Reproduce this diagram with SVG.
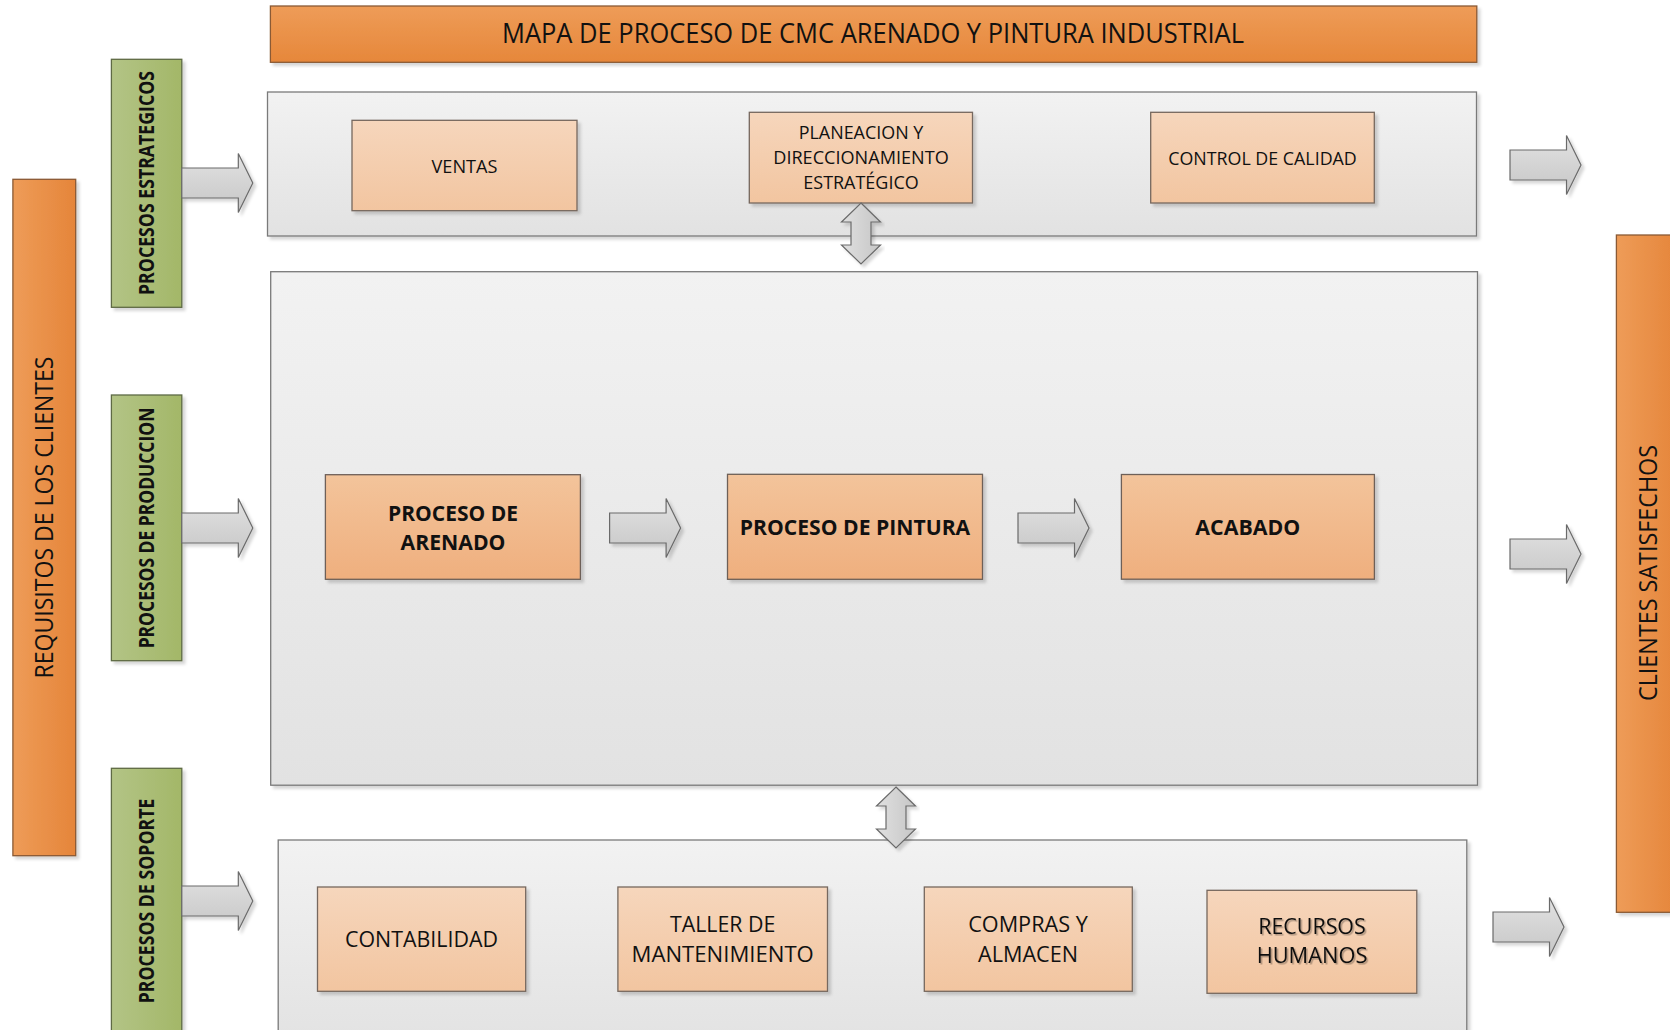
<svg xmlns="http://www.w3.org/2000/svg" xmlns:xlink="http://www.w3.org/1999/xlink" width="1670" height="1030" viewBox="0 0 1670 1030">
  <defs>
    <linearGradient id="gOrangeV" x1="0" y1="0" x2="0" y2="1">
      <stop offset="0" stop-color="#EE9C58"/>
      <stop offset="1" stop-color="#E6873A"/>
    </linearGradient>
    <linearGradient id="gOrangeH" x1="0" y1="0" x2="1" y2="0">
      <stop offset="0" stop-color="#EE9C58"/>
      <stop offset="1" stop-color="#E5853A"/>
    </linearGradient>
    <linearGradient id="gGreen" x1="0" y1="0" x2="1" y2="0">
      <stop offset="0" stop-color="#B3C486"/>
      <stop offset="1" stop-color="#A3B768"/>
    </linearGradient>
    <linearGradient id="gPanel" x1="0" y1="0" x2="0" y2="1">
      <stop offset="0" stop-color="#F2F2F2"/>
      <stop offset="1" stop-color="#E2E2E2"/>
    </linearGradient>
    <linearGradient id="gPeach" x1="0" y1="0" x2="0" y2="1">
      <stop offset="0" stop-color="#F6D6BC"/>
      <stop offset="1" stop-color="#F2C5A0"/>
    </linearGradient>
    <linearGradient id="gPeachDark" x1="0" y1="0" x2="0" y2="1">
      <stop offset="0" stop-color="#F3C49B"/>
      <stop offset="1" stop-color="#EFAF7E"/>
    </linearGradient>
    <linearGradient id="gArrow" x1="0" y1="0" x2="0" y2="1">
      <stop offset="0" stop-color="#E2E2E2"/>
      <stop offset="1" stop-color="#C6C6C6"/>
    </linearGradient>
    <linearGradient id="gArrowV" x1="0" y1="0" x2="1" y2="0">
      <stop offset="0" stop-color="#E0E0E0"/>
      <stop offset="1" stop-color="#C6C6C6"/>
    </linearGradient>
    <filter id="shadow" x="-5%" y="-5%" width="115%" height="115%">
      <feDropShadow dx="3" dy="3" stdDeviation="1.5" flood-color="#000" flood-opacity="0.16"/>
    </filter>
    <filter id="txtShadow" x="-5%" y="-20%" width="115%" height="150%">
      <feDropShadow dx="1.5" dy="1.5" stdDeviation="0.6" flood-color="#000" flood-opacity="0.3"/>
    </filter>
    <!-- horizontal block arrow, origin at tail centre -->
    <path id="blockArrow" d="M0,-15 H56.5 V-29.5 L71,0 L56.5,29.5 V15 H0 Z"/>
    <!-- vertical two-headed arrow, origin at top tip -->
    <path id="dblArrow" d="M0,0 L19.5,19 H10 V42 H19.5 L0,61 L-19.5,42 H-10 V19 H-19.5 Z"/>
    <style>
      .panel { fill: url(#gPanel); stroke: #7A7A7A; stroke-width: 1.3; filter: url(#shadow); }
      .box { fill: url(#gPeach); stroke: #76685E; stroke-width: 1.3; filter: url(#shadow); }
      .boxDark { fill: url(#gPeachDark); stroke: #6E6058; stroke-width: 1.3; filter: url(#shadow); }
      .green { fill: url(#gGreen); stroke: #5E6B45; stroke-width: 1.3; filter: url(#shadow); }
      .orangeV { fill: url(#gOrangeV); stroke: #8A5A34; stroke-width: 1.3; filter: url(#shadow); }
      .orangeH { fill: url(#gOrangeH); stroke: #8A5A34; stroke-width: 1.3; filter: url(#shadow); }
      .arrow { fill: url(#gArrow); stroke: #6A6A6A; stroke-width: 1.2; filter: url(#shadow); }
      .arrowV { fill: url(#gArrowV); stroke: #6A6A6A; stroke-width: 1.2; filter: url(#shadow); }
      text { font-family: "Open Sans", "Noto Sans", "Liberation Sans", sans-serif; fill: #111; text-anchor: middle; }
      .t19 { font-size: 19px; }
      .t22 { font-size: 22px; }
      .b22 { font-size: 22px; font-weight: bold; }
      .vlab { font-size: 20.5px; font-weight: bold; }
      .side { font-size: 25px; }
      .title { font-size: 26.5px; }
    </style>
  </defs>

  <!-- title banner -->
  <g id="title">
    <rect class="orangeV" x="270.4" y="6" width="1206.4" height="56.3"/>
    <text class="title" x="873" y="43.3" textLength="742" lengthAdjust="spacingAndGlyphs">MAPA DE PROCESO DE CMC ARENADO Y PINTURA INDUSTRIAL</text>
  </g>

  <!-- side bars -->
  <g id="requisitos">
    <rect class="orangeH" x="12.9" y="179.3" width="62.8" height="676.4"/>
    <text class="side" x="43.5" y="526.5" transform="rotate(-90 43.5 517.5)" textLength="322" lengthAdjust="spacingAndGlyphs">REQUISITOS DE LOS CLIENTES</text>
  </g>
  <g id="clientes-satisfechos">
    <rect class="orangeH" x="1616.4" y="235" width="62" height="677.3"/>
    <text class="side" x="1647.5" y="582" transform="rotate(-90 1647.5 573)" textLength="256" lengthAdjust="spacingAndGlyphs">CLIENTES SATISFECHOS</text>
  </g>

  <!-- category labels -->
  <g id="cat-estrategicos">
    <rect class="green" x="111.4" y="59.3" width="70.4" height="248"/>
    <text class="vlab" x="146" y="190.5" transform="rotate(-90 146 183)" textLength="224" lengthAdjust="spacingAndGlyphs">PROCESOS ESTRATEGICOS</text>
  </g>
  <g id="cat-produccion">
    <rect class="green" x="111.4" y="395" width="70.4" height="265.7"/>
    <text class="vlab" x="146" y="535.5" transform="rotate(-90 146 528)" textLength="240.7" lengthAdjust="spacingAndGlyphs">PROCESOS DE PRODUCCION</text>
  </g>
  <g id="cat-soporte">
    <rect class="green" x="111.4" y="768.3" width="70.4" height="275"/>
    <text class="vlab" x="146" y="908.5" transform="rotate(-90 146 901)" textLength="204.7" lengthAdjust="spacingAndGlyphs">PROCESOS DE SOPORTE</text>
  </g>

  <!-- swimlane panels -->
  <g id="panel-estrategicos">
    <rect class="panel" x="267.5" y="92" width="1209" height="144"/>
  </g>
  <g id="panel-produccion">
    <rect class="panel" x="270.7" y="271.7" width="1206.8" height="513.5"/>
  </g>
  <g id="panel-soporte">
    <rect class="panel" x="278.2" y="840" width="1188.6" height="210"/>
  </g>

  <!-- strategic processes -->
  <g id="ventas">
    <rect class="box" x="352" y="120.3" width="225" height="90.4"/>
    <text class="t19" x="464.5" y="172.5" textLength="66" lengthAdjust="spacingAndGlyphs">VENTAS</text>
  </g>
  <g id="planeacion">
    <rect class="box" x="749.3" y="112.3" width="223.2" height="90.7"/>
    <text class="t19" x="861" y="139.3" textLength="124.6" lengthAdjust="spacingAndGlyphs">PLANEACION Y</text>
    <text class="t19" x="861" y="164" textLength="175.5" lengthAdjust="spacingAndGlyphs">DIRECCIONAMIENTO</text>
    <text class="t19" x="861" y="189" textLength="115.4" lengthAdjust="spacingAndGlyphs">ESTRATÉGICO</text>
  </g>
  <g id="control-calidad">
    <rect class="box" x="1150.7" y="112.3" width="223.6" height="90.7"/>
    <text class="t19" x="1262.5" y="164.7" textLength="188.6" lengthAdjust="spacingAndGlyphs">CONTROL DE CALIDAD</text>
  </g>

  <!-- production processes -->
  <g id="arenado">
    <rect class="boxDark" x="325.4" y="474.7" width="255" height="104.6"/>
    <text class="b22" x="453" y="521" textLength="130" lengthAdjust="spacingAndGlyphs">PROCESO DE</text>
    <text class="b22" x="453" y="550" textLength="105" lengthAdjust="spacingAndGlyphs">ARENADO</text>
  </g>
  <g id="pintura">
    <rect class="boxDark" x="727.5" y="474.3" width="255" height="105"/>
    <text class="b22" x="855" y="535.3" textLength="230.4" lengthAdjust="spacingAndGlyphs">PROCESO DE PINTURA</text>
  </g>
  <g id="acabado">
    <rect class="boxDark" x="1121.4" y="474.5" width="253" height="104.7"/>
    <text class="b22" x="1247.8" y="535.3" textLength="105" lengthAdjust="spacingAndGlyphs">ACABADO</text>
  </g>

  <!-- support processes -->
  <g id="contabilidad">
    <rect class="box" x="317.5" y="887" width="208.2" height="104.3"/>
    <text class="t22" x="421.5" y="947.3" textLength="153" lengthAdjust="spacingAndGlyphs">CONTABILIDAD</text>
  </g>
  <g id="taller">
    <rect class="box" x="617.9" y="887" width="209.6" height="104.3"/>
    <text class="t22" x="722.7" y="932.3" textLength="105.4" lengthAdjust="spacingAndGlyphs">TALLER DE</text>
    <text class="t22" x="722.7" y="962" textLength="182.2" lengthAdjust="spacingAndGlyphs">MANTENIMIENTO</text>
  </g>
  <g id="compras">
    <rect class="box" x="924.3" y="887" width="208" height="104.3"/>
    <text class="t22" x="1028" y="932" textLength="119.7" lengthAdjust="spacingAndGlyphs">COMPRAS Y</text>
    <text class="t22" x="1028" y="962" textLength="100" lengthAdjust="spacingAndGlyphs">ALMACEN</text>
  </g>
  <g id="recursos">
    <rect class="box" x="1207" y="890.3" width="209.8" height="103"/>
    <g filter="url(#txtShadow)">
      <text class="t22" x="1312" y="934" textLength="107.5" lengthAdjust="spacingAndGlyphs">RECURSOS</text>
      <text class="t22" x="1312" y="963.3" textLength="110.7" lengthAdjust="spacingAndGlyphs">HUMANOS</text>
    </g>
  </g>

  <!-- connectors -->
  <g id="connectors">
    <use href="#blockArrow" class="arrow" x="181.8" y="183"/>
    <use href="#blockArrow" class="arrow" x="181.8" y="528"/>
    <use href="#blockArrow" class="arrow" x="181.8" y="901"/>
    <use href="#blockArrow" class="arrow" x="609.6" y="528"/>
    <use href="#blockArrow" class="arrow" x="1018" y="528"/>
    <use href="#blockArrow" class="arrow" x="1510" y="165"/>
    <use href="#blockArrow" class="arrow" x="1510" y="554"/>
    <use href="#blockArrow" class="arrow" x="1493" y="927"/>
    <use href="#dblArrow" class="arrowV" x="861" y="203"/>
    <use href="#dblArrow" class="arrowV" x="896" y="787"/>
  </g>
</svg>
